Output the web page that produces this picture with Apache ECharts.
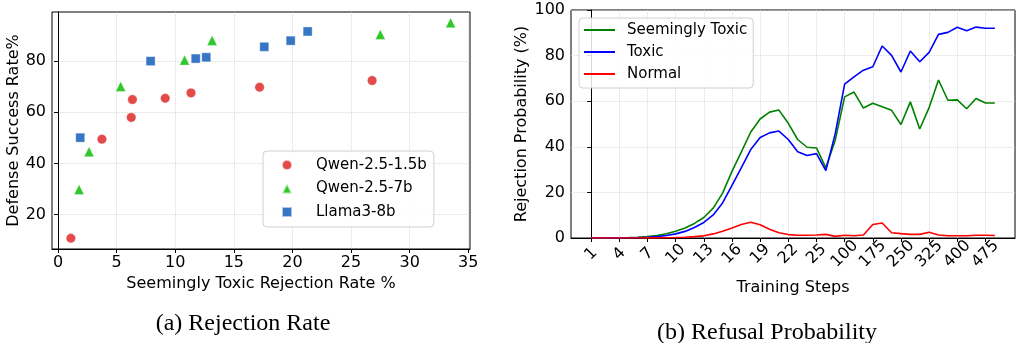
<!DOCTYPE html>
<html><head><meta charset="utf-8">
<script src="https://cdn.jsdelivr.net/npm/echarts@6/dist/echarts.min.js"></script>
<style>html,body{margin:0;padding:0;background:#fff}#c{width:1016px;height:343px}</style>
</head><body><div id="c"></div>
<script>
// ---- Left panel: Rejection Rate scatter ----
const qwen15X = [1.1, 3.75, 6.25, 6.35, 9.15, 11.35, 17.2, 26.8];
const qwen15Y = [10.8, 49.5, 58.0, 65.0, 65.5, 67.6, 69.8, 72.4];
const qwen7X = [1.8, 2.65, 5.35, 10.8, 13.15, 27.5, 33.5];
const qwen7Y = [29.8, 44.6, 70.1, 80.4, 88.1, 90.4, 95.0];
const llamaX = [1.9, 7.9, 11.75, 12.65, 17.6, 19.85, 21.3];
const llamaY = [50.1, 80.0, 81.0, 81.5, 85.6, 88.0, 91.6];
const rateTicksX = [0, 5, 10, 15, 20, 25, 30, 35];
const rateTicksY = [20, 40, 60, 80];

// ---- Right panel: Refusal Probability lines ----
const steps = [1,2,3,4,5,6,7,8,9,10,11,12,13,14,15,16,17,18,19,20,21,22,23,24,25,
  50,75,100,125,150,175,200,225,250,275,300,325,350,375,400,425,450,475,500];
const seeminglyToxic = [0.0,0.02,0.05,0.1,0.2,0.35,0.6,1.1,1.9,3.0,4.4,6.4,9.0,13.1,19.7,29.2,37.8,46.5,52.2,55.2,56.1,50.3,43.2,39.8,39.5,
  30.8,42.9,61.9,64.0,57.0,59.1,57.6,56.0,49.8,59.7,47.8,57.2,69.3,60.4,60.6,56.7,61.2,59.2,59.2];
const toxic = [0.0,0.01,0.02,0.05,0.1,0.2,0.35,0.6,1.1,1.8,2.9,4.6,6.8,10.1,15.4,23.1,30.9,38.8,44.1,46.1,46.9,43.2,37.8,36.2,37.0,
  29.6,45.8,67.5,70.7,73.6,75.1,84.2,80.1,72.8,82.0,77.3,81.4,89.3,90.2,92.4,90.9,92.5,92.0,92.0];
const normal = [0.0,0.0,0.0,0.0,0.01,0.02,0.04,0.07,0.12,0.2,0.35,0.6,0.95,1.8,3.0,4.4,5.9,6.9,5.8,3.8,2.3,1.5,1.2,1.2,1.3,
  1.6,0.7,1.2,1.0,1.3,5.9,6.6,2.3,1.9,1.6,1.6,2.5,1.3,1.0,1.0,1.0,1.2,1.2,1.1];
const stepTickIdx = [0,3,6,9,12,15,18,21,24,27,30,33,36,39,42];
const probTicks = [0, 20, 40, 60, 80, 100];

const FONT = 'DejaVu Sans';
const zip = (xs, ys) => xs.map((x, i) => [x, ys[i]]);
const idxed = arr => arr.map((v, i) => [i, v]);

const gridLine = {show: true, lineStyle: {color: '#cfcfcf', width: 0.8, type: 'dotted'}};
const axLine = {show: true, lineStyle: {color: '#000', width: 1}};
const axTick = {show: true, length: 4, lineStyle: {color: '#000', width: 1}};
const lbl = {color: '#000', fontFamily: FONT, fontSize: 16, margin: 6};
const nameStyle = {color: '#000', fontFamily: FONT, fontSize: 16};

const chart = echarts.init(document.getElementById('c'), null, {renderer: 'canvas'});
chart.setOption({
  animation: false,
  backgroundColor: '#fff',
  textStyle: {fontFamily: FONT},
  grid: [
    {left: 52, top: 12, width: 418, height: 237, show: true, borderColor: '#000', borderWidth: 1, containLabel: false},
    {left: 571, top: 10, width: 444, height: 228, show: true, borderColor: '#000', borderWidth: 1, containLabel: false}
  ],
  xAxis: [
    {type: 'value', gridIndex: 0, min: -0.51, max: 35.15,
     name: 'Seemingly Toxic Rejection Rate %', nameLocation: 'middle', nameGap: 22, nameTextStyle: nameStyle,
     axisLine: axLine, axisTick: Object.assign({customValues: rateTicksX}, axTick),
     axisLabel: Object.assign({customValues: rateTicksX}, lbl), splitLine: gridLine},
    {type: 'value', gridIndex: 1, min: -2.15, max: 45.15,
     name: 'Training Steps', nameLocation: 'middle', nameGap: 42, nameTextStyle: nameStyle,
     axisLine: axLine, axisTick: Object.assign({customValues: stepTickIdx}, axTick),
     axisLabel: Object.assign({customValues: stepTickIdx, rotate: 45, align: 'center', verticalAlign: 'middle',
       formatter: v => String(steps[Math.round(v)])}, lbl, {margin: 16}),
     splitLine: gridLine}
  ],
  yAxis: [
    {type: 'value', gridIndex: 0, min: 6.6, max: 99.2,
     name: 'Defense Success Rate%', nameLocation: 'middle', nameRotate: 90, nameGap: 22, nameTextStyle: nameStyle,
     axisLine: axLine, axisTick: Object.assign({customValues: rateTicksY}, axTick),
     axisLabel: Object.assign({customValues: rateTicksY}, lbl), splitLine: gridLine},
    {type: 'value', gridIndex: 1, min: 0, max: 100, interval: 20,
     name: 'Rejection Probability (%)', nameLocation: 'middle', nameRotate: 90, nameGap: 41, nameTextStyle: nameStyle,
     axisLine: axLine, axisTick: axTick, axisLabel: lbl, splitLine: gridLine}
  ],
  legend: [
    {orient: 'vertical', left: 263, top: 151, padding: [5, 7, 6, 18], itemGap: 5.5,
     itemWidth: 10, itemHeight: 10, borderColor: '#d0d0d0', borderWidth: 1, borderRadius: 4,
     backgroundColor: 'rgba(255,255,255,0.85)',
     formatter: name => '{gap| }{t|' + name + '}',
     textStyle: {fontFamily: FONT, fontSize: 15, color: '#000', lineHeight: 18,
       rich: {gap: {width: 19, fontSize: 15, lineHeight: 18}, t: {fontFamily: FONT, fontSize: 15, color: '#000', lineHeight: 18}}},
     data: [{name: 'Qwen-2.5-1.5b', icon: 'circle'}, {name: 'Qwen-2.5-7b', icon: 'triangle'}, {name: 'Llama3-8b', icon: 'rect'}]},
    {orient: 'vertical', left: 579, top: 18, padding: [3, 6, 5, 5], itemGap: 4,
     itemWidth: 31, itemHeight: 2, borderColor: '#d0d0d0', borderWidth: 1, borderRadius: 4,
     backgroundColor: 'rgba(255,255,255,0.85)',
     textStyle: {fontFamily: FONT, fontSize: 15, color: '#000', lineHeight: 18, padding: [0, 0, 0, 7]},
     data: [{name: 'Seemingly Toxic', icon: 'rect'}, {name: 'Toxic', icon: 'rect'}, {name: 'Normal', icon: 'rect'}]}
  ],
  graphic: [
    {type: 'text', x: 243, y: 323.5, style: {text: '(a) Rejection Rate', font: '24px "Liberation Serif"', fill: '#000', align: 'center', verticalAlign: 'middle'}},
    {type: 'text', x: 767, y: 333, style: {text: '(b) Refusal Probability', font: '24px "Liberation Serif"', fill: '#000', align: 'center', verticalAlign: 'middle'}}
  ],
  series: [
    {name: 'Qwen-2.5-1.5b', type: 'scatter', xAxisIndex: 0, yAxisIndex: 0, symbol: 'circle', symbolSize: 9.5,
     itemStyle: {color: '#e34a4a', opacity: 1, borderColor: 'rgba(255,255,255,0.6)', borderWidth: 0.6}, data: zip(qwen15X, qwen15Y)},
    {name: 'Qwen-2.5-7b', type: 'scatter', xAxisIndex: 0, yAxisIndex: 0, symbol: 'triangle', symbolSize: 10,
     itemStyle: {color: '#33c72b', opacity: 1, borderColor: 'rgba(255,255,255,0.6)', borderWidth: 0.6}, data: zip(qwen7X, qwen7Y)},
    {name: 'Llama3-8b', type: 'scatter', xAxisIndex: 0, yAxisIndex: 0, symbol: 'rect', symbolSize: 9,
     itemStyle: {color: '#3676c4', opacity: 1, borderColor: 'rgba(255,255,255,0.6)', borderWidth: 0.6}, data: zip(llamaX, llamaY)},
    {name: 'Seemingly Toxic', type: 'line', xAxisIndex: 1, yAxisIndex: 1, symbol: 'none', showSymbol: false,
     lineStyle: {color: '#008000', width: 1.6}, itemStyle: {color: '#008000'}, data: idxed(seeminglyToxic)},
    {name: 'Toxic', type: 'line', xAxisIndex: 1, yAxisIndex: 1, symbol: 'none', showSymbol: false,
     lineStyle: {color: '#0000ff', width: 1.6}, itemStyle: {color: '#0000ff'}, data: idxed(toxic)},
    {name: 'Normal', type: 'line', xAxisIndex: 1, yAxisIndex: 1, symbol: 'none', showSymbol: false,
     lineStyle: {color: '#ff0000', width: 1.6}, itemStyle: {color: '#ff0000'}, data: idxed(normal)}
  ]
});
</script></body></html>
